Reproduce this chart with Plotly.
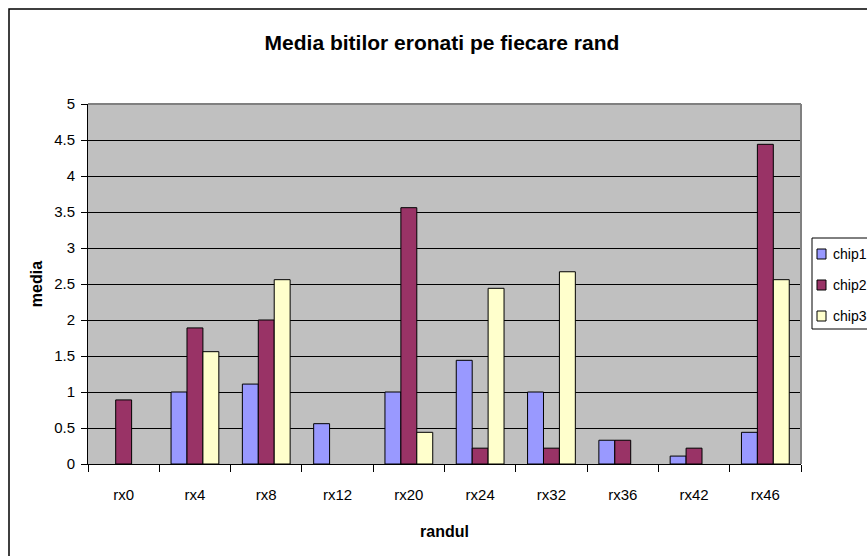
import plotly.graph_objects as go

categories = ["rx0", "rx4", "rx8", "rx12", "rx20", "rx24", "rx32", "rx36", "rx42", "rx46"]
chip1 = [None, 1.0, 1.11, 0.56, 1.0, 1.44, 1.0, 0.33, 0.11, 0.44]
chip2 = [0.89, 1.89, 2.0, None, 3.56, 0.22, 0.22, 0.33, 0.22, 4.44]
chip3 = [None, 1.56, 2.56, None, 0.44, 2.44, 2.67, None, None, 2.56]
series_names = ["chip1", "chip2", "chip3"]
colors = ["#9999FF", "#993366", "#FFFFCC"]
y_ticks = [0, 0.5, 1, 1.5, 2, 2.5, 3, 3.5, 4, 4.5, 5]
y_tick_labels = ["0", "0.5", "1", "1.5", "2", "2.5", "3", "3.5", "4", "4.5", "5"]

FONT = "Liberation Sans, Arial, sans-serif"
W, H = 867, 556

fig = go.Figure()
for name, vals, col in zip(series_names, [chip1, chip2, chip3], colors):
    fig.add_trace(go.Bar(
        x=categories, y=vals, name=name,
        marker=dict(color=col, line=dict(color="black", width=1)),
    ))

# plot area in page px
PL, PR, PT, PB = 88, 801, 104, 464
def px_x(p):
    return (p - PL) / (PR - PL)
def px_y(p):
    return (PB - p) / (PB - PT)

shapes = [
    # outer chart border (extends beyond page at right/bottom)
    dict(type="rect", xref="paper", yref="paper", x0=px_x(9), x1=px_x(900), y0=px_y(600), y1=px_y(9),
         line=dict(color="black", width=1.5), fillcolor="rgba(0,0,0,0)", layer="above"),
    # plot area top and right edges
    dict(type="line", xref="paper", yref="paper", x0=0, x1=1, y0=1, y1=1,
         line=dict(color="#808080", width=2), layer="above"),
    dict(type="line", xref="paper", yref="paper", x0=1, x1=1, y0=0, y1=1,
         line=dict(color="#808080", width=2), layer="above"),
    # legend box
    dict(type="rect", xref="paper", yref="paper", x0=px_x(812), x1=px_x(900), y0=px_y(329), y1=px_y(238),
         line=dict(color="black", width=1), fillcolor="white", layer="above"),
]
annotations = []
legend_y = [254, 285, 316]
for name, col, ly in zip(series_names, colors, legend_y):
    shapes.append(dict(type="rect", xref="paper", yref="paper",
                       x0=px_x(817), x1=px_x(826), y0=px_y(ly + 5), y1=px_y(ly - 5),
                       line=dict(color="black", width=1), fillcolor=col, layer="above"))
    annotations.append(dict(text=name, xref="paper", yref="paper", x=px_x(831), y=px_y(ly),
                            xanchor="left", yanchor="middle", showarrow=False,
                            font=dict(size=14, family=FONT, color="black")))

fig.update_layout(
    width=W, height=H,
    paper_bgcolor="white", plot_bgcolor="#C0C0C0",
    margin=dict(l=PL, r=W - PR, t=PT, b=H - PB, autoexpand=False),
    barmode="group", bargap=0.33, bargroupgap=0,
    font=dict(family=FONT, size=15, color="black"),
    title=dict(text="<b>Media bitilor eronati pe fiecare rand</b>",
               x=442 / W, xanchor="center", y=1 - 43 / H, yanchor="middle",
               font=dict(size=21, family=FONT, color="black")),
    showlegend=False,
    xaxis=dict(
        title=dict(text="<b>randul</b>", font=dict(size=16, family=FONT), standoff=23),
        showline=True, linecolor="black", linewidth=1,
        ticks="outside", tickson="boundaries", ticklen=7, tickcolor="black",
        ticklabelstandoff=17,
        showgrid=False, tickfont=dict(size=15),
    ),
    yaxis=dict(
        title=dict(text="<b>media</b>", font=dict(size=16, family=FONT), standoff=7),
        range=[0, 5], tickvals=y_ticks, ticktext=y_tick_labels,
        showline=True, linecolor="black", linewidth=1,
        ticks="outside", ticklen=6, tickcolor="black",
        ticklabelstandoff=3,
        showgrid=True, gridcolor="black", gridwidth=1, zeroline=False,
        tickfont=dict(size=15),
    ),
    shapes=shapes,
    annotations=annotations,
)

fig.write_html("out.html",
               config={"displayModeBar": False},
               post_script="document.body.style.margin='0';document.body.style.overflow='hidden';")
